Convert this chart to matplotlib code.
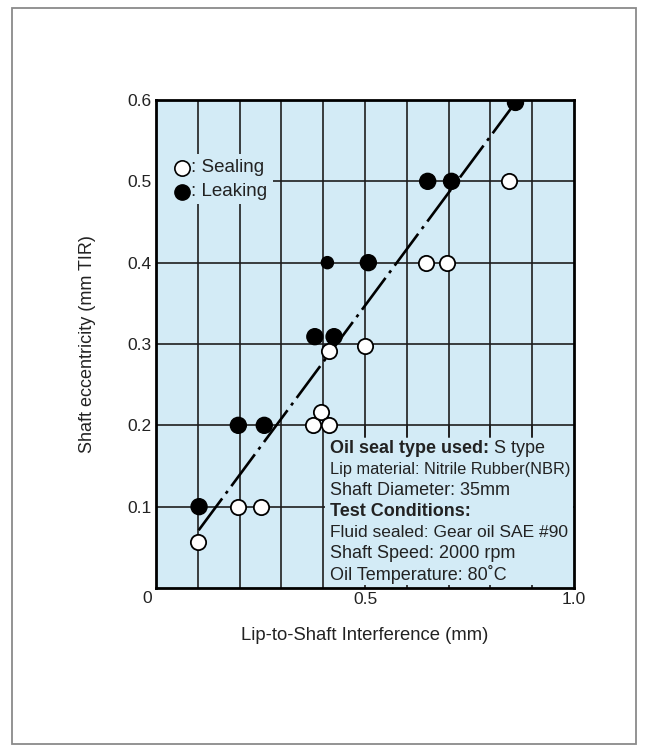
import matplotlib
matplotlib.use("Agg")
import matplotlib.pyplot as plt
from matplotlib.patches import Rectangle

plt.rcParams['font.family'] = ['Liberation Sans', 'DejaVu Sans']

# ---- data ----
sealing_x = [0.10, 0.195, 0.25, 0.375, 0.395, 0.415, 0.415, 0.50, 0.645, 0.697, 0.845]
sealing_y = [0.057, 0.10, 0.10, 0.20, 0.216, 0.20, 0.292, 0.298, 0.40, 0.40, 0.50]
leaking_x = [0.103, 0.197, 0.259, 0.38, 0.426, 0.41, 0.508, 0.65, 0.707, 0.86]
leaking_y = [0.10, 0.20, 0.20, 0.309, 0.309, 0.40, 0.40, 0.50, 0.50, 0.597]
leaking_sizes = [11.5, 11.5, 11.5, 11.5, 11.5, 8.7, 11.5, 11.5, 11.5, 11.5]
trend_x = [0.102, 0.86]
trend_y = [0.071, 0.597]
x_tick_vals = [0.5, 1.0]
x_tick_labels = ["0.5", "1.0"]
y_tick_vals = [0.1, 0.2, 0.3, 0.4, 0.5, 0.6]
y_tick_labels = ["0.1", "0.2", "0.3", "0.4", "0.5", "0.6"]
legend_labels = [": Sealing", ": Leaking"]
info_lines = [
    "Lip material: Nitrile Rubber(NBR)",
    "Shaft Diameter: 35mm",
    "Test Conditions:",
    "Fluid sealed: Gear oil SAE #90",
    "Shaft Speed: 2000 rpm",
    "Oil Temperature: 80\u02daC",
]
info_bold = [False, False, True, False, False, False]
info_sizes = [11.8, 13, 13, 12.5, 13, 13]

BG = "#d3ebf6"
GRID = "#1e1e1e"
TXT = "#222222"

fig = plt.figure(figsize=(6.48, 7.48), dpi=100)
# outer frame
fig.add_artist(Rectangle((12/648, 1-744/748), 624/648, 736/748, transform=fig.transFigure,
                         fill=False, edgecolor="#8a8a8a", linewidth=1.3))

ax = fig.add_axes([156/648, 1-588/748, 418/648, 488/748])
ax.set_facecolor(BG)
ax.set_xlim(0, 1.0)
ax.set_ylim(0, 0.6)

# grid lines
for gx in [0.1, 0.2, 0.3, 0.4, 0.5, 0.6, 0.7, 0.8, 0.9]:
    ax.axvline(gx, color=GRID, lw=1.2, zorder=1)
for gy in [0.1, 0.2, 0.3, 0.4, 0.5]:
    ax.axhline(gy, color=GRID, lw=1.2, zorder=1)

# info box covering grid
ax.add_patch(Rectangle((0.404, 0.004), 0.594, 0.182, facecolor=BG, edgecolor="none", zorder=2))
for gx in [0.5, 0.6, 0.7, 0.8, 0.9]:
    ax.plot([gx, gx], [0.2, 0.186], color=GRID, lw=1.2, zorder=2.5)

# legend box covering grid
ax.add_patch(Rectangle((0.003, 0.4717), 0.277, 0.0613, facecolor=BG, edgecolor="none", zorder=2))
leg_y = [0.861, 0.8125]
ax.plot([0.062], [leg_y[0]], marker='o', markersize=11, markerfacecolor='white',
        markeredgecolor='black', markeredgewidth=1.2, linestyle='none',
        transform=ax.transAxes, zorder=4)
ax.plot([0.062], [leg_y[1]], marker='o', markersize=11, markerfacecolor='black',
        markeredgecolor='black', linestyle='none', transform=ax.transAxes, zorder=4)
for ly, lab in zip(leg_y, legend_labels):
    ax.text(0.084, ly, lab, transform=ax.transAxes, fontsize=13.5, color=TXT,
            va="center", ha="left", zorder=4)

# trend line
ax.plot(trend_x, trend_y, color="black", lw=1.9, zorder=3,
        linestyle=(0, (15, 2.3, 1.2, 2.3)), solid_capstyle='butt', dash_capstyle='butt')

# data points
ax.scatter(sealing_x, sealing_y, s=121, facecolor="white", edgecolor="black",
           linewidth=1.3, zorder=4)
ax.scatter(leaking_x, leaking_y, s=[v**2 for v in leaking_sizes], facecolor="black",
           edgecolor="black", linewidth=1.0, zorder=5)

for sp in ax.spines.values():
    sp.set_linewidth(2.0)
    sp.set_color("black")
    sp.set_zorder(6)

ax.set_xticks(x_tick_vals)
ax.set_xticklabels(x_tick_labels)
ax.set_yticks(y_tick_vals)
ax.set_yticklabels(y_tick_labels)
ax.tick_params(length=0, labelsize=12.5, colors=TXT)
ax.tick_params(axis='x', pad=3)
ax.tick_params(axis='y', pad=3)
ax.text(-0.022, -0.0125, "0", transform=ax.transData, ha="center", va="center",
        fontsize=12.5, color=TXT)

ax.set_xlabel("Lip-to-Shaft Interference (mm)", fontsize=13.3, color=TXT, labelpad=14)
ax.set_ylabel("Shaft eccentricity (mm TIR)", fontsize=13, color=TXT, labelpad=23)

# info text
y0 = 0.172
dy = 0.026
t = ax.text(0.416, y0, "Oil seal type used:", fontsize=13, fontweight="bold",
            color=TXT, va="center", ha="left", zorder=6)
ax.annotate(" S type", xy=(1, 0.5), xycoords=t, va="center", ha="left",
            fontsize=13, color=TXT, zorder=6)
for i, (line, b, fs) in enumerate(zip(info_lines, info_bold, info_sizes)):
    ax.text(0.416, y0 - dy*(i+1), line, fontsize=fs,
            fontweight="bold" if b else "normal", color=TXT,
            va="center", ha="left", zorder=6)

fig.savefig("out.png", dpi=100, facecolor="white")
